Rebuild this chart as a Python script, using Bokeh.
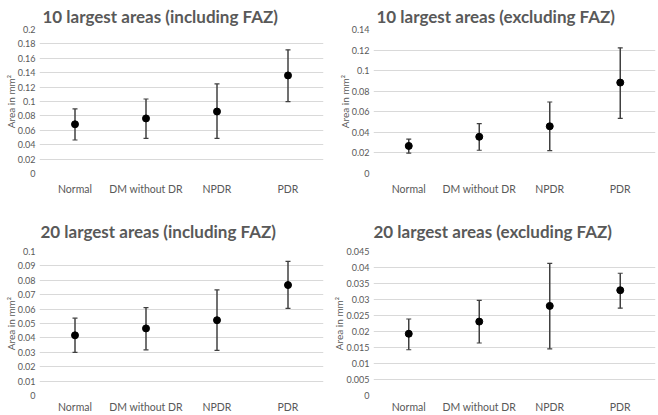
from bokeh.plotting import figure
from bokeh.layouts import gridplot
from bokeh.models import Range1d, FactorRange, FixedTicker, CustomJSTickFormatter, ColumnDataSource
from bokeh.embed import file_html
from bokeh.resources import INLINE

categories = ["Normal", "DM without DR", "NPDR", "PDR"]

titles = ["10 largest areas (including FAZ)", "10 largest areas (excluding FAZ)",
          "20 largest areas (including FAZ)", "20 largest areas (excluding FAZ)"]

inc10_mean = [0.0684, 0.0765, 0.0861, 0.1362]
inc10_low = [0.0465, 0.0487, 0.0487, 0.0998]
inc10_high = [0.0897, 0.1035, 0.1244, 0.1718]

exc10_mean = [0.0268, 0.0357, 0.0459, 0.0884]
exc10_low = [0.0198, 0.0226, 0.0223, 0.0536]
exc10_high = [0.0335, 0.0485, 0.0695, 0.1222]

inc20_mean = [0.0418, 0.0466, 0.0523, 0.0767]
inc20_low = [0.0299, 0.0317, 0.0313, 0.0605]
inc20_high = [0.0537, 0.0610, 0.0733, 0.0932]

exc20_mean = [0.0193, 0.0231, 0.0280, 0.0329]
exc20_low = [0.0143, 0.0164, 0.0146, 0.0273]
exc20_high = [0.0239, 0.0297, 0.0413, 0.0382]

y_max = [0.2, 0.14, 0.1, 0.045]
y_step = [0.02, 0.02, 0.01, 0.005]

TXT = "#595959"
FONT = "Lato"


def panel(title, mean, low, high, ymax, step, width, height, top, bottom, left, right,
          title_offset, title_standoff, title_lh, x_standoff):
    p = figure(x_range=FactorRange(*categories, range_padding=0), y_range=Range1d(0, ymax),
               width=width, height=height, output_backend="svg", toolbar_location=None,
               min_border_top=top, min_border_bottom=bottom, min_border_left=left,
               min_border_right=right)
    p.outline_line_color = None
    p.title.text = title
    p.title.text_font = FONT
    p.title.text_font_style = "bold"
    p.title.text_font_size = "17px"
    p.title.text_color = TXT
    p.title.align = "left"
    p.title.offset = title_offset
    p.title.standoff = title_standoff
    p.title.text_line_height = title_lh
    n = int(round(ymax / step))
    p.yaxis.ticker = FixedTicker(ticks=[round(i * step, 4) for i in range(n + 1)])
    p.yaxis.formatter = CustomJSTickFormatter(code="return String(parseFloat(tick.toFixed(4)));")
    for ax in (p.xaxis, p.yaxis):
        ax.axis_line_color = None
        ax.major_tick_line_color = None
        ax.minor_tick_line_color = None
        ax.major_tick_out = 0
        ax.major_tick_in = 0
        ax.minor_tick_out = 0
        ax.minor_tick_in = 0
        ax.major_label_text_color = TXT
        ax.major_label_text_font = FONT
    p.xaxis.axis_label_standoff = 0
    p.yaxis.major_label_text_font_size = "9px"
    p.xaxis.major_label_text_font_size = "10.5px"
    p.yaxis.major_label_standoff = 4
    p.xaxis.major_label_standoff = x_standoff
    p.yaxis.axis_label = "Area in mm²"
    p.yaxis.axis_label_text_font = FONT
    p.yaxis.axis_label_text_font_style = "normal"
    p.yaxis.axis_label_text_font_size = "10px"
    p.yaxis.axis_label_text_color = TXT
    p.yaxis.axis_label_standoff = -2
    p.xgrid.grid_line_color = None
    p.ygrid.grid_line_color = "#d9d9d9"
    p.ygrid.grid_line_width = 1
    src = ColumnDataSource(dict(x=categories, m=mean, lo=low, hi=high))
    p.segment(x0="x", y0="lo", x1="x", y1="hi", source=src, line_color="#404040", line_width=1.5)
    p.scatter(x="x", y="hi", source=src, marker="dash", size=5, line_color="#404040", line_width=1.2)
    p.scatter(x="x", y="lo", source=src, marker="dash", size=5, line_color="#404040", line_width=1.2)
    p.scatter(x="x", y="m", source=src, marker="circle", size=7, fill_color="black", line_color="black")
    return p


p1 = panel(titles[0], inc10_mean, inc10_low, inc10_high, y_max[0], y_step[0],
           330, 205, 27, 32, 37, 7, 3, 6, 0.45, 9)
p2 = panel(titles[1], exc10_mean, exc10_low, exc10_high, y_max[1], y_step[1],
           328, 205, 27, 32, 35, 3, 3, 6, 0.45, 9)
p3 = panel(titles[2], inc20_mean, inc20_low, inc20_high, y_max[2], y_step[2],
           330, 210, 46, 16, 39, 7, 1, 20, 1.0, 5)
p4 = panel(titles[3], exc20_mean, exc20_low, exc20_high, y_max[3], y_step[3],
           328, 210, 46, 16, 40, 3, 0, 20, 1.0, 5)

grid = gridplot([[p1, p2], [p3, p4]], toolbar_location=None)

open("out.html", "w").write(file_html(grid, INLINE))
